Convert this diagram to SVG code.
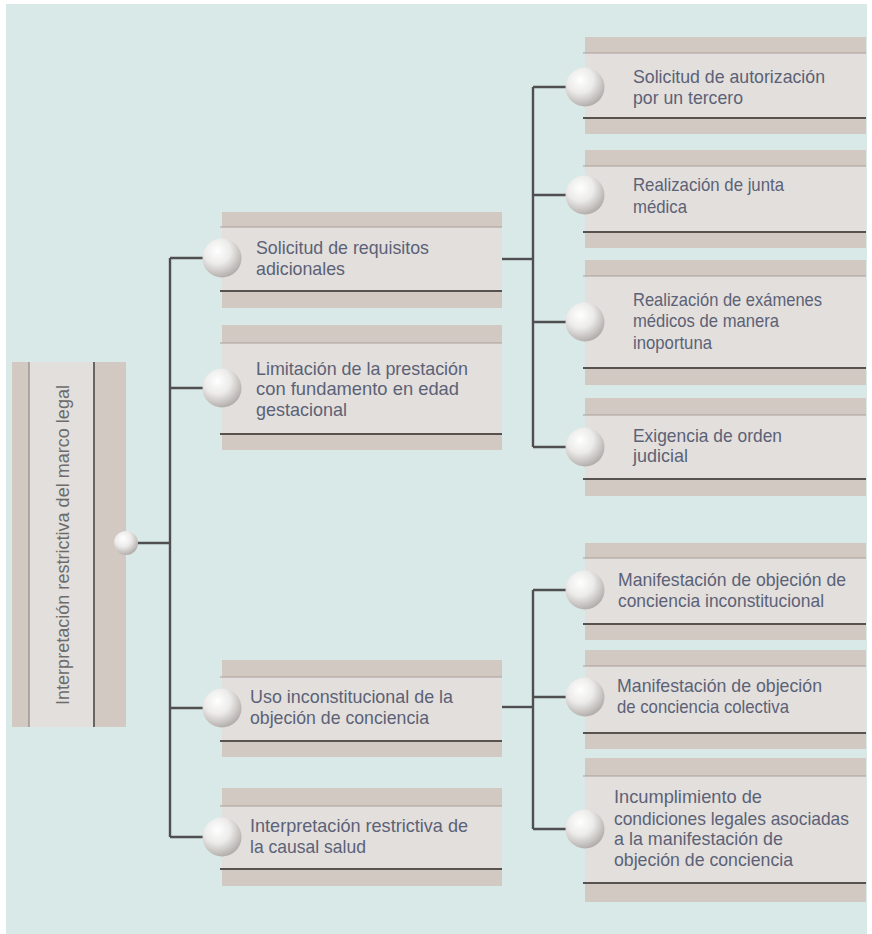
<svg xmlns="http://www.w3.org/2000/svg" width="872" height="934" viewBox="0 0 872 934">
  <defs>
    <radialGradient id="ball" cx="0.38" cy="0.32" r="0.75">
      <stop offset="0" stop-color="#ffffff"/>
      <stop offset="0.45" stop-color="#ecebea"/>
      <stop offset="1" stop-color="#aaa4a1"/>
    </radialGradient>
    <style>
      .band { fill: #d2c9c3; }
      .body { fill: #e3dfdc; }
      .tline { stroke: #a9a09a; stroke-width: 1.2; }
      .bline { stroke: #58524f; stroke-width: 2.2; }
      .ball { fill: url(#ball); }
      .lbl { font-family: "Liberation Sans", Arial, sans-serif; font-size: 19px; fill: #5b6277; }
      .root { font-family: "Liberation Sans", Arial, sans-serif; font-size: 19px; fill: #6c6c6c; }
      .conn { fill: none; stroke: #4f4f4f; stroke-width: 2.4; }
    </style>
  </defs>

  <!-- page and panel -->
  <rect x="0" y="0" width="872" height="934" fill="#ffffff"/>
  <rect x="6" y="4" width="861" height="930" fill="#d9e9e8"/>
  <!-- tail of the heading above the panel -->
  <text x="437" y="-8" font-family="Liberation Serif, serif" font-size="28" font-weight="bold" fill="#111">g</text>

  <!-- connectors -->
  <g id="connectors" class="conn">
    <path d="M137 543 H170"/>
    <path d="M170 258 V837"/>
    <path d="M170 258 H204 M170 388 H204 M170 708 H204 M170 837 H204"/>
    <path d="M502 259 H533"/>
    <path d="M533 87 V447"/>
    <path d="M533 87 H567 M533 195 H567 M533 322 H567 M533 447 H567"/>
    <path d="M502 707 H533"/>
    <path d="M533 590 V829"/>
    <path d="M533 590 H567 M533 697 H567 M533 829 H567"/>
  </g>

  <!-- root -->
  <g id="root">
    <rect class="band" x="12" y="362" width="114" height="365"/>
    <rect class="body" x="29" y="362" width="65" height="365"/>
    <line x1="29" y1="362" x2="29" y2="727" stroke="#9a918c" stroke-width="1.4"/>
    <line x1="94" y1="362" x2="94" y2="727" stroke="#6b6561" stroke-width="2"/>
    <circle class="ball" cx="126" cy="543" r="12"/>
    <text class="root" transform="translate(69 545) rotate(-90)" text-anchor="middle" textLength="320" lengthAdjust="spacingAndGlyphs">Interpretación restrictiva del marco legal</text>
  </g>

  <!-- first level -->
  <g id="node-requisitos">
    <rect class="band" x="222" y="212" width="280" height="96"/>
    <rect class="body" x="222" y="227" width="280" height="64"/>
    <line class="tline" x1="220" y1="227" x2="502" y2="227"/>
    <line class="bline" x1="220" y1="291" x2="502" y2="291"/>
    <circle class="ball" cx="222" cy="258" r="19.5"/>
    <text class="lbl"><tspan x="256" y="254" textLength="173" lengthAdjust="spacingAndGlyphs">Solicitud de requisitos</tspan><tspan x="256" y="275" textLength="89" lengthAdjust="spacingAndGlyphs">adicionales</tspan></text>
  </g>

  <g id="node-limitacion">
    <rect class="band" x="222" y="325" width="280" height="125"/>
    <rect class="body" x="222" y="343" width="280" height="91"/>
    <line class="tline" x1="220" y1="343" x2="502" y2="343"/>
    <line class="bline" x1="220" y1="434" x2="502" y2="434"/>
    <circle class="ball" cx="222" cy="388" r="19.5"/>
    <text class="lbl"><tspan x="256" y="375" textLength="212" lengthAdjust="spacingAndGlyphs">Limitación de la prestación</tspan><tspan x="256" y="395" textLength="203" lengthAdjust="spacingAndGlyphs">con fundamento en edad</tspan><tspan x="256" y="416" textLength="91" lengthAdjust="spacingAndGlyphs">gestacional</tspan></text>
  </g>

  <g id="node-objecion">
    <rect class="band" x="222" y="660" width="280" height="97"/>
    <rect class="body" x="222" y="677" width="280" height="64"/>
    <line class="tline" x1="220" y1="677" x2="502" y2="677"/>
    <line class="bline" x1="220" y1="741" x2="502" y2="741"/>
    <circle class="ball" cx="222" cy="708" r="19.5"/>
    <text class="lbl"><tspan x="250" y="703" textLength="203" lengthAdjust="spacingAndGlyphs">Uso inconstitucional de la</tspan><tspan x="250" y="724" textLength="179" lengthAdjust="spacingAndGlyphs">objeción de conciencia</tspan></text>
  </g>

  <g id="node-causal-salud">
    <rect class="band" x="222" y="788" width="280" height="98"/>
    <rect class="body" x="222" y="806" width="280" height="63"/>
    <line class="tline" x1="220" y1="806" x2="502" y2="806"/>
    <line class="bline" x1="220" y1="869" x2="502" y2="869"/>
    <circle class="ball" cx="222" cy="837" r="19.5"/>
    <text class="lbl"><tspan x="250" y="832" textLength="218" lengthAdjust="spacingAndGlyphs">Interpretación restrictiva de</tspan><tspan x="250" y="853" textLength="116" lengthAdjust="spacingAndGlyphs">la causal salud</tspan></text>
  </g>

  <!-- second level: requisitos -->
  <g id="node-autorizacion">
    <rect class="band" x="585" y="37" width="281" height="97"/>
    <rect class="body" x="585" y="53" width="281" height="65"/>
    <line class="tline" x1="583" y1="53" x2="866" y2="53"/>
    <line class="bline" x1="583" y1="118" x2="866" y2="118"/>
    <circle class="ball" cx="585" cy="87" r="19.5"/>
    <text class="lbl"><tspan x="633" y="83" textLength="192" lengthAdjust="spacingAndGlyphs">Solicitud de autorización</tspan><tspan x="633" y="104" textLength="110" lengthAdjust="spacingAndGlyphs">por un tercero</tspan></text>
  </g>

  <g id="node-junta">
    <rect class="band" x="585" y="150" width="281" height="98"/>
    <rect class="body" x="585" y="166" width="281" height="66"/>
    <line class="tline" x1="583" y1="166" x2="866" y2="166"/>
    <line class="bline" x1="583" y1="232" x2="866" y2="232"/>
    <circle class="ball" cx="585" cy="195" r="19.5"/>
    <text class="lbl"><tspan x="633" y="191" textLength="151" lengthAdjust="spacingAndGlyphs">Realización de junta</tspan><tspan x="633" y="213" textLength="54" lengthAdjust="spacingAndGlyphs">médica</tspan></text>
  </g>

  <g id="node-examenes">
    <rect class="band" x="585" y="260" width="281" height="125"/>
    <rect class="body" x="585" y="276" width="281" height="92"/>
    <line class="tline" x1="583" y1="276" x2="866" y2="276"/>
    <line class="bline" x1="583" y1="368" x2="866" y2="368"/>
    <circle class="ball" cx="585" cy="322" r="19.5"/>
    <text class="lbl"><tspan x="633" y="306" textLength="189" lengthAdjust="spacingAndGlyphs">Realización de exámenes</tspan><tspan x="633" y="327" textLength="146" lengthAdjust="spacingAndGlyphs">médicos de manera</tspan><tspan x="633" y="349" textLength="79" lengthAdjust="spacingAndGlyphs">inoportuna</tspan></text>
  </g>

  <g id="node-orden-judicial">
    <rect class="band" x="585" y="398" width="281" height="98"/>
    <rect class="body" x="585" y="415" width="281" height="64"/>
    <line class="tline" x1="583" y1="415" x2="866" y2="415"/>
    <line class="bline" x1="583" y1="479" x2="866" y2="479"/>
    <circle class="ball" cx="585" cy="447" r="19.5"/>
    <text class="lbl"><tspan x="633" y="442" textLength="149" lengthAdjust="spacingAndGlyphs">Exigencia de orden</tspan><tspan x="633" y="462" textLength="55" lengthAdjust="spacingAndGlyphs">judicial</tspan></text>
  </g>

  <!-- second level: objecion -->
  <g id="node-inconstitucional">
    <rect class="band" x="585" y="543" width="281" height="97"/>
    <rect class="body" x="585" y="558" width="281" height="66"/>
    <line class="tline" x1="583" y1="558" x2="866" y2="558"/>
    <line class="bline" x1="583" y1="624" x2="866" y2="624"/>
    <circle class="ball" cx="585" cy="590" r="19.5"/>
    <text class="lbl"><tspan x="618" y="586" textLength="228" lengthAdjust="spacingAndGlyphs">Manifestación de objeción de</tspan><tspan x="618" y="607" textLength="206" lengthAdjust="spacingAndGlyphs">conciencia inconstitucional</tspan></text>
  </g>

  <g id="node-colectiva">
    <rect class="band" x="585" y="650" width="281" height="99"/>
    <rect class="body" x="585" y="666" width="281" height="67"/>
    <line class="tline" x1="583" y1="666" x2="866" y2="666"/>
    <line class="bline" x1="583" y1="733" x2="866" y2="733"/>
    <circle class="ball" cx="585" cy="697" r="19.5"/>
    <text class="lbl"><tspan x="617" y="692" textLength="205" lengthAdjust="spacingAndGlyphs">Manifestación de objeción</tspan><tspan x="617" y="713" textLength="172" lengthAdjust="spacingAndGlyphs">de conciencia colectiva</tspan></text>
  </g>

  <g id="node-incumplimiento">
    <rect class="band" x="585" y="758" width="281" height="144"/>
    <rect class="body" x="585" y="776" width="281" height="107"/>
    <line class="tline" x1="583" y1="776" x2="866" y2="776"/>
    <line class="bline" x1="583" y1="883" x2="866" y2="883"/>
    <circle class="ball" cx="585" cy="829" r="19.5"/>
    <text class="lbl"><tspan x="614" y="803" textLength="148" lengthAdjust="spacingAndGlyphs">Incumplimiento de</tspan><tspan x="614" y="825" textLength="235" lengthAdjust="spacingAndGlyphs">condiciones legales asociadas</tspan><tspan x="614" y="845" textLength="169" lengthAdjust="spacingAndGlyphs">a la manifestación de</tspan><tspan x="614" y="866" textLength="179" lengthAdjust="spacingAndGlyphs">objeción de conciencia</tspan></text>
  </g>
</svg>
